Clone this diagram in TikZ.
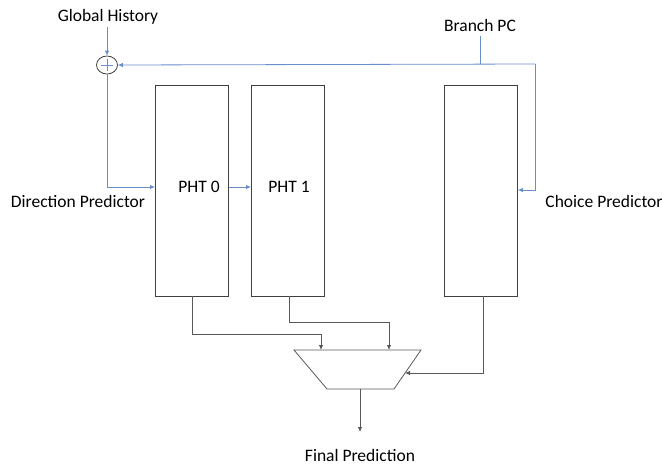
\documentclass[tikz,border=0pt]{standalone}
\usepackage{fontspec}
\setmainfont{Carlito}
\usetikzlibrary{arrows.meta,shapes.geometric}
\definecolor{sigblue}{HTML}{4472C4}
\definecolor{boxgray}{HTML}{404040}
\definecolor{wiregray}{HTML}{595959}
\tikzset{
  x=1pt, y=-1pt,
  lbl/.style={font=\fontsize{17.5}{20}\selectfont, inner sep=0pt},
  pht/.style={draw=boxgray, line width=0.9pt, minimum width=73pt, minimum height=211pt, inner sep=0pt, anchor=north west},
  bwire/.style={draw=sigblue!80, line width=0.8pt, -{Latex[length=5pt,width=4.5pt]}},
  bline/.style={draw=sigblue!80, line width=0.8pt},
  kwire/.style={draw=wiregray, line width=0.8pt, -{Latex[length=5pt,width=4.5pt]}},
}
\begin{document}
\begin{tikzpicture}
\useasboundingbox (0,0) rectangle (662,464);

% labels
\node[lbl] (gh) at (108,17) {Global History};
\node[lbl] (bpc) at (480,25) {Branch PC};
\node[lbl] (dp) at (78,201) {Direction Predictor};
\node[lbl] (cp) at (604,201) {Choice Predictor};
\node[lbl] (fp) at (360,455) {Final Prediction};

% XOR of history and PC
\node[draw=boxgray, ellipse, line width=0.8pt, minimum width=21pt, minimum height=18pt, inner sep=0pt] (xor) at (107,65) {};
\draw[sigblue!80, line width=0.8pt] ([xshift=-6pt]xor.center) -- ([xshift=6pt]xor.center)
  ([yshift=-6pt]xor.center) -- ([yshift=6pt]xor.center);

% tables
\node[pht] (p0) at (155,85) {};
\node[pht] (p1) at (251,85) {};
\node[pht] (ch) at (444,85) {};
\node[lbl] at (199,187) {PHT 0};
\node[lbl] at (289,187) {PHT 1};

% selection mux
\coordinate (mtl) at (294,350);
\coordinate (mtr) at (421,350);
\coordinate (mbr) at (394,389);
\coordinate (mbl) at (327,389);
\draw[wiregray, line width=0.8pt] (mtl) -- (mtr) -- (mbr) -- (mbl) -- cycle;

% blue signal paths
\coordinate (ghs) at (107,27);
\draw[bwire] (ghs) -- (xor.north);
\coordinate (bps) at (480,36);
\coordinate (bpj) at (480,64);
\coordinate (bpr) at (535,64);
\draw[bline] (bps) -- (bpj);
\draw[bwire] (bpr) -- (xor.east);
\draw[bwire] (bpr) -- (535,190) -- (ch.east |- 0,190);
\draw[bwire] (xor.south) -- (107,187) -- (p0.west |- 0,187);
\draw[bwire] (p0.east |- 0,187) -- (p1.west |- 0,187);

% outputs into the mux
\draw[kwire] (192,296) -- (192,334) -- (321,334) -- (321,350);
\draw[kwire] (289,296) -- (289,322) -- (389,322) -- (389,350);
\draw[kwire] (483,296) -- (483,373) -- (405,373);
\coordinate (mout) at (360,389);
\coordinate (fpe) at (360,432);
\draw[kwire] (mout) -- (fpe);
\end{tikzpicture}
\end{document}
